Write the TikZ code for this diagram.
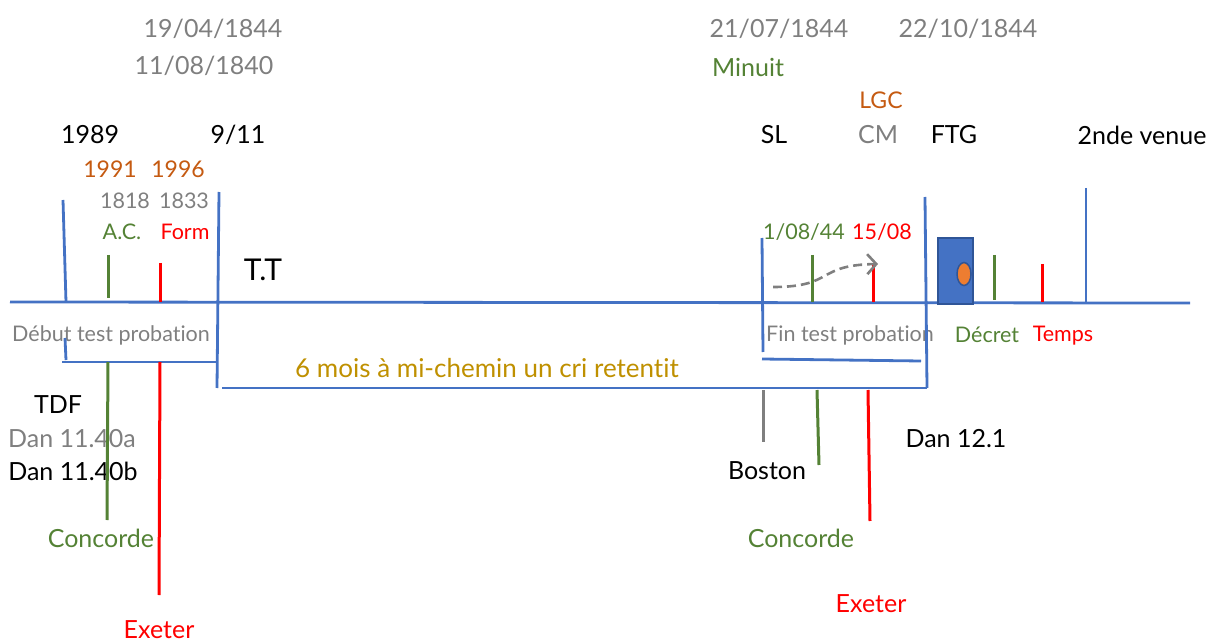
\documentclass[tikz,border=0pt]{standalone}
\usepackage{fontspec}
\setmainfont{Lato}[Ligatures={NoCommon,NoRare}]
\usetikzlibrary{arrows.meta, shapes.geometric}
\definecolor{lineblue}{HTML}{4472C4}
\definecolor{boxblue}{HTML}{2F5597}
\definecolor{tgreen}{HTML}{548235}
\definecolor{tred}{HTML}{FF0000}
\definecolor{torange}{HTML}{C55A11}
\definecolor{tgray}{HTML}{7F7F7F}
\definecolor{tgold}{HTML}{BF9000}
\definecolor{dotorange}{HTML}{ED7D31}

\begin{document}
\begin{tikzpicture}[
            x=1pt, y=-1pt,
            every node/.style={inner sep=0pt, anchor=center},
            big/.style={font=\fontsize{25}{30}\selectfont},
            mid/.style={font=\fontsize{23}{27}\selectfont},
            small/.style={font=\fontsize{21.5}{25}\selectfont},
            axis/.style={draw=lineblue, line width=2.8pt},
            gtick/.style={draw=tgreen, line width=3pt},
            rtick/.style={draw=tred, line width=3pt}
        ]
        \useasboundingbox (0,0) rectangle (1221,644);

        % Dates on top
        \node[big, tgray] (d1) at (213,29) {19/04/1844};
        \node[big, tgray] (d2) at (204,66) {11/08/1840};
        \node[big, tgray] (d3) at (779,29) {21/07/1844};
        \node[big, tgray] (d4) at (968,29) {22/10/1844};
        \node[big, tgreen] (minuit) at (748,67) {Minuit};
        \node[mid, torange] (lgc) at (881,100) {LGC};

        % Labels above the line
        \node[big] (y1989) at (90,135) {1989};
        \node[big] (nine) at (238,135) {9/11};
        \node[big] (sl) at (774,135) {SL};
        \node[big, tgray] (cm) at (878,135) {CM};
        \node[big] (ftg) at (954,135) {FTG};
        \node[big] (venue) at (1142,135) {2nde venue};
        \node[mid, torange] (y1991) at (110,169) {1991};
        \node[mid, torange] (y1996) at (178,169) {1996};
        \node[small, tgray] (y1818) at (125,201) {1818};
        \node[small, tgray] (y1833) at (184,201) {1833};
        \node[small, tgreen] (ac) at (122,232) {A.C.};
        \node[small, tred] (form) at (185,232) {Form};
        \node[small, tgreen] (aout) at (804,232) {1/08/44};
        \node[small, tred] (quinze) at (882,232) {15/08};
        \node[font=\fontsize{30}{34}\selectfont] (tt) at (263,270) {T.T};

        % Labels below the line
        \node[small, tgray] (debut) at (111,335) {Début test probation};
        \node[small, tgray] (fin) at (850,335) {Fin test probation};
        \node[small, tgreen] (decret) at (987,335) {Décret};
        \node[small, tred] (temps) at (1063,336) {Temps};
        \node[font=\fontsize{26}{30}\selectfont, tgold] (cri) at (487,368) {6 mois à mi-chemin un cri retentit};
        \node[big] (tdf) at (58,405) {TDF};
        \node[big, tgray] (dana) at (72,439) {Dan 11.40a};
        \node[big] (danb) at (73,471) {Dan 11.40b};
        \node[big] (dan12) at (956,439) {Dan 12.1};
        \node[big] (boston) at (767,471) {Boston};
        \node[big, tgreen] (conc1) at (101,538) {Concorde};
        \node[big, tgreen] (conc2) at (801,538) {Concorde};
        \node[big, tred] (exe1) at (159,630) {Exeter};
        \node[big, tred] (exe2) at (871,604) {Exeter};

        % Time line and brackets
        \draw[axis] (10,302) -- (1190,303);
        \draw[axis] (63,200) -- (66,302);
        \draw[axis] (65,338) -- (66,360);
        \draw[axis] (62,362) -- (217,362);
        \draw[axis] (219,192) -- (217,388);
        \draw[axis] (222,388) -- (927,388);
        \draw[axis] (925,197) -- (927,388);
        \draw[axis] (762,238) -- (763,352);
        \draw[axis] (762,359) -- (921,361);
        \draw[axis] (1086,188) -- (1086,302);

        % Ticks
        \draw[gtick] (108,255) -- (108,298);
        \draw[rtick] (160,263) -- (160,302);
        \draw[gtick] (812,255) -- (812,302);
        \draw[rtick] (873,265) -- (873,302);
        \draw[gtick] (994,255) -- (994,300);
        \draw[rtick] (1042,264) -- (1042,302);
        \draw[gtick] (108,362) -- (107,520);
        \draw[rtick] (160,362) -- (159,595);
        \draw[draw=tgray, line width=3pt] (763,390) -- (763,442);
        \draw[gtick] (817,390) -- (819,465);
        \draw[rtick] (868,390) -- (870,521);

        % Box with dot
        \node[draw=boxblue, fill=lineblue, line width=2pt, minimum width=35, minimum height=66] (box) at (955,271.5) {};
        \node[ellipse, draw=boxblue, fill=dotorange, line width=1.5pt, minimum width=14, minimum height=23] (dot) at (964,274) {};

        % Dashed arrow
        \draw[dashed, draw=tgray, line width=2.6pt, dash pattern=on 9pt off 5pt, -{Straight Barb[length=9pt, width=20pt, line width=2.6pt]}]
            (773,287) .. controls (835,287) and (815,265) .. (878,264);
        \end{tikzpicture}
\end{document}
